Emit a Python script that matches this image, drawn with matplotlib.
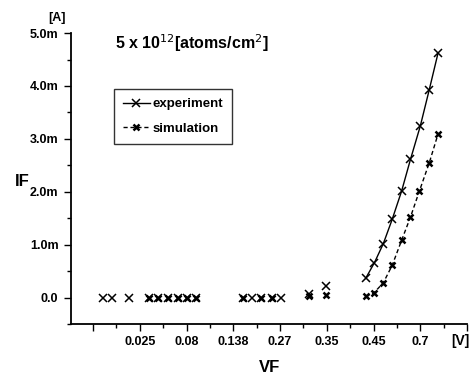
import matplotlib
matplotlib.use("Agg")
import matplotlib.pyplot as plt
from matplotlib.ticker import MultipleLocator, FixedLocator

plt.rcParams["font.family"] = ["Liberation Sans", "DejaVu Sans"]

# x positions are in tick-slot units (the VF axis is not linear)
tick_pos = [0, 1, 2, 3, 4, 5, 6, 7, 8]
tick_labels = ["", "0.025", "0.08", "0.138", "0.27", "0.35", "0.45", "0.7", ""]

# low-voltage points (no connecting line), IF in mA
exp_low_x = [0.21, 0.40, 0.77, 1.19, 1.38, 1.60, 1.81, 2.00, 2.20,
             3.20, 3.41, 3.60, 3.82, 4.01, 4.61, 4.99]
exp_low_y = [0, 0, 0, 0, 0, 0, 0, 0, 0, 0, 0, 0, 0, 0, 0.06, 0.21]
sim_low_x = [1.19, 1.38, 1.60, 1.81, 2.00, 2.20, 3.20, 3.60, 3.82, 4.61, 4.99]
sim_low_y = [0, 0, 0, 0, 0, 0, 0, 0, 0, 0.03, 0.04]

# rising part of the curves
exp_x = [5.83, 6.02, 6.21, 6.40, 6.60, 6.79, 7.00, 7.19, 7.38]
exp_y = [0.36, 0.66, 1.02, 1.48, 2.01, 2.61, 3.24, 3.92, 4.62]
sim_x = [5.83, 6.00, 6.21, 6.40, 6.60, 6.79, 6.98, 7.19, 7.38]
sim_y = [0.02, 0.08, 0.28, 0.61, 1.08, 1.52, 2.01, 2.54, 3.09]

ytick_vals = [0, 1, 2, 3, 4, 5]
ytick_labels = ["0.0", "1.0m", "2.0m", "3.0m", "4.0m", "5.0m"]

fig = plt.figure(figsize=(4.71, 3.80), dpi=100)
ax = fig.add_axes([0.1507, 0.1474, 0.8408, 0.7656])

exp_style = dict(marker="x", color="black", markersize=5.5, markeredgewidth=1.1)
sim_style = dict(marker="x", color="black", markersize=4, markeredgewidth=1.8)

ax.plot(exp_low_x, exp_low_y, linestyle="none", **exp_style)
ax.plot(sim_low_x, sim_low_y, linestyle="none", **sim_style)
ax.plot(exp_x, exp_y, linestyle="-", linewidth=1.0, label="experiment", **exp_style)
ax.plot(sim_x, sim_y, linestyle=(0, (3, 2)), linewidth=1.0, label="simulation", **sim_style)

ax.set_xlim(-0.474, 8.0)
ax.set_ylim(-0.5, 5.0)

ax.spines["top"].set_visible(False)
ax.spines["right"].set_visible(False)
ax.spines["left"].set_linewidth(1.3)
ax.spines["bottom"].set_linewidth(1.3)

ax.xaxis.set_major_locator(FixedLocator(tick_pos))
ax.set_xticklabels(tick_labels)
ax.xaxis.set_minor_locator(MultipleLocator(0.5))
ax.yaxis.set_major_locator(FixedLocator(ytick_vals))
ax.set_yticklabels(ytick_labels)
ax.yaxis.set_minor_locator(MultipleLocator(0.5))
ax.tick_params(which="major", direction="out", length=5, width=1.0, labelsize=9, pad=4)
ax.tick_params(which="minor", direction="out", length=3, width=1.0)
for lbl in ax.get_xticklabels() + ax.get_yticklabels():
    lbl.set_fontweight("bold")

fig.text(469 / 471, 1 - 341 / 380, "[V]", ha="right", va="center", fontsize=10, fontweight="bold")
fig.text(57 / 471, 1 - 18 / 380, "[A]", ha="center", va="center", fontsize=9, fontweight="bold")
fig.text(22 / 471, 1 - 181 / 380, "IF", ha="center", va="center", fontsize=12, fontweight="bold")
fig.text(270 / 471, 1 - 367 / 380, "VF", ha="center", va="center", fontsize=12, fontweight="bold")
fig.text(115 / 471, 1 - 43 / 380, r"5 x 10$^{12}$[atoms/cm$^{2}$]", ha="left", va="center",
         fontsize=11.5, fontweight="bold")

leg = ax.legend(loc="upper left", bbox_to_anchor=(0.1086, 0.808), borderaxespad=0,
                frameon=True, fancybox=False, edgecolor="black", fontsize=9.5,
                handlelength=2.0, handletextpad=0.2, borderpad=0.7, labelspacing=0.9)
leg.get_frame().set_linewidth(1.0)
for t in leg.get_texts():
    t.set_fontweight("bold")

fig.savefig("out.png", dpi=100)
